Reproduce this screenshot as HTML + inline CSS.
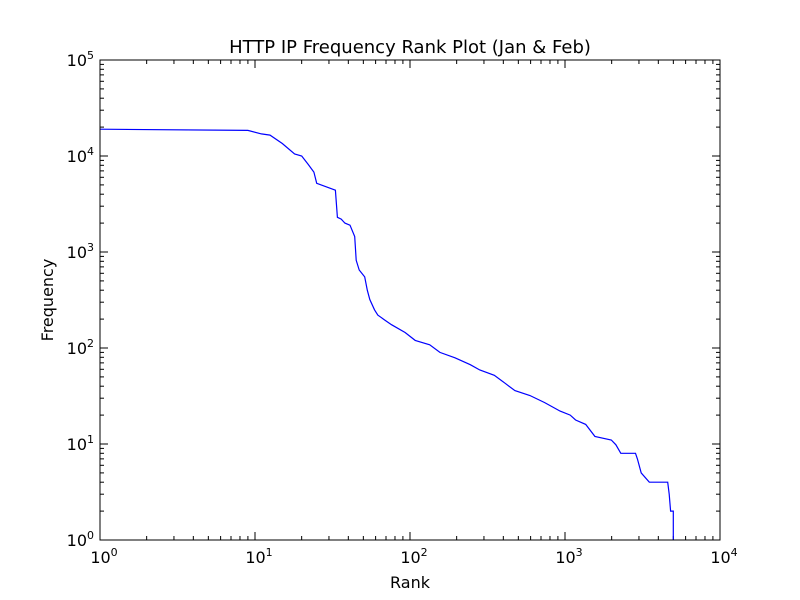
<!DOCTYPE html>
<html><head><meta charset="utf-8"><style>
body{margin:0;background:#fff;}
svg{display:block;font-family:"DejaVu Sans","Liberation Sans",sans-serif;}
</style></head><body>
<svg id="chart" width="800" height="600" viewBox="0 0 800 600">
<rect x="0" y="0" width="800" height="600" fill="#fff"/>
<text x="410" y="53" text-anchor="middle" font-size="18">HTTP IP Frequency Rank Plot (Jan &amp; Feb)</text>
<text x="410" y="588" text-anchor="middle" font-size="16">Rank</text>
<text x="53" y="300" text-anchor="middle" font-size="16" transform="rotate(-90 53 300)">Frequency</text>
<g id="ticks"></g>
<g id="plot"></g>
<rect x="100" y="60" width="620" height="480" fill="none" stroke="#000" stroke-width="1"/>
</svg>
<script>
const ranks=[1,9,11,12.5,15,18,20,22,24,25,33,34,36,38,41,44,45,47,51,53,55,59,62,69,76,93,108,134,156,195,245,282,350,410,475,594,740,930,1080,1170,1360,1560,1990,2130,2290,2850,2930,3100,3500,4600,4700,4800,5000,5000];
const freqs=[19000,18500,17000,16500,13500,10500,10000,8200,6800,5200,4400,2300,2200,2000,1900,1450,820,650,550,400,320,250,220,195,175,145,120,108,90,79,67,59,52,43,36,32,27,22,20,17.8,16,12,11,9.8,8,8,7,5,4,4,3,2,2,1];
const xExps=[0,1,2,3,4];
const yExps=[0,1,2,3,4,5];
const NS='http://www.w3.org/2000/svg';
const X0=100,X1=720,Y0=540,Y1=60;
function sx(v){return X0+(Math.log10(v)-0)/(4)*(X1-X0);}
function sy(v){return Y0-(Math.log10(v)-0)/(5)*(Y0-Y1);}
const tg=document.getElementById('ticks'),pg=document.getElementById('plot');
function line(g,x1,y1,x2,y2,name){const l=document.createElementNS(NS,'line');
l.setAttribute('x1',x1);l.setAttribute('y1',y1);l.setAttribute('x2',x2);l.setAttribute('y2',y2);
l.setAttribute('stroke','#000');l.setAttribute('stroke-width','1');


g.appendChild(l);}
function label(x,y,e,anchor,name){const t=document.createElementNS(NS,'text');
t.setAttribute('x',x);t.setAttribute('y',y);t.setAttribute('text-anchor',anchor);t.setAttribute('font-size','16');
t.innerHTML='10<tspan font-size="11" dy="-7">'+e+'</tspan>';


tg.appendChild(t);}
xExps.forEach((e,i)=>{const x=sx(Math.pow(10,e));
line(tg,x,Y0,x,Y0-8,'x-major-tick');line(tg,x,Y1,x,Y1+8,'x-major-tick-top');
label(x+4,563,e,'middle','x-tick-label');
if(i<xExps.length-1)for(let m=2;m<10;m++){const xm=sx(m*Math.pow(10,e));
line(tg,xm,Y0,xm,Y0-4,'x-minor-tick');line(tg,xm,Y1,xm,Y1+4,'x-minor-tick-top');}});
yExps.forEach((e,i)=>{const y=sy(Math.pow(10,e));
line(tg,X0,y,X0+8,y,'y-major-tick');line(tg,X1,y,X1-8,y,'y-major-tick-right');
label(94,y+6,e,'end','y-tick-label');
if(i<yExps.length-1)for(let m=2;m<10;m++){const ym=sy(m*Math.pow(10,e));
line(tg,X0,ym,X0+4,ym,'y-minor-tick');line(tg,X1,ym,X1-4,ym,'y-minor-tick-right');}});
const p=document.createElementNS(NS,'polyline');
p.setAttribute('points',ranks.map((r,i)=>sx(r).toFixed(1)+','+sy(freqs[i]).toFixed(1)).join(' '));
p.setAttribute('fill','none');p.setAttribute('stroke','#0000ff');p.setAttribute('stroke-width','1.2');


pg.appendChild(p);
</script>
</body></html>
